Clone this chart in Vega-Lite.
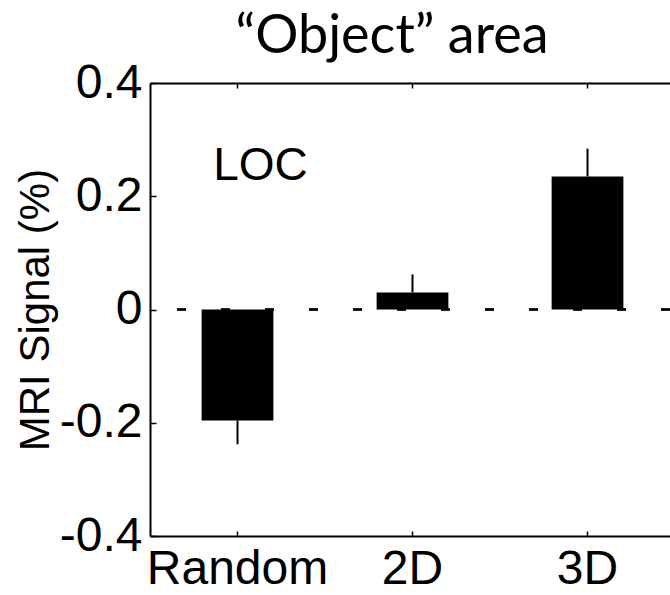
{
  "$schema": "https://vega.github.io/schema/vega-lite/v6.json",
  "width": 520,
  "height": 453,
  "autosize": "none",
  "padding": {"left": 150, "top": 83, "right": 0, "bottom": 59},
  "background": "white",
  "config": {"view": {"stroke": null}, "font": "Liberation Sans"},
  "title": {"text": "“Object” area", "font": "Lato", "fontSize": 54, "fontWeight": "normal", "color": "black", "anchor": "middle", "dx": -18, "dy": 9},
  "data": {"values": [
    {"cond": "Random", "val": -0.196, "bound": -0.238},
    {"cond": "2D", "val": 0.03, "bound": 0.062},
    {"cond": "3D", "val": 0.235, "bound": 0.284}
  ]},
  "resolve": {"axis": {"x": "independent"}},
  "layer": [
    {
      "mark": {"type": "rule", "strokeDash": [9, 35], "color": "black", "strokeWidth": 2},
      "encoding": {"y": {"datum": 0, "type": "quantitative"}}
    },
    {
      "mark": {"type": "bar", "color": "black"},
      "encoding": {
        "x": {"field": "cond", "type": "nominal", "sort": ["Random", "2D", "3D"],
          "scale": {"range": [0, 525], "paddingInner": 0.59, "paddingOuter": 0.295},
          "axis": {"orient": "bottom", "title": null, "labelAngle": 0, "labelLimit": 0, "labelFont": "Liberation Sans", "labelFontSize": 48, "labelColor": "black", "labelPadding": 14, "tickSize": -5, "tickColor": "black", "tickWidth": 1.5, "domainColor": "black", "domainWidth": 2}},
        "y": {"field": "val", "type": "quantitative",
          "scale": {"domain": [-0.4, 0.4], "nice": false, "zero": false},
          "axis": {"values": [-0.4, -0.2, 0, 0.2, 0.4], "grid": false, "labelExpr": "replace(format(datum.value, '~g'), '−', '-')", "labelFont": "Liberation Sans", "labelFontSize": 48, "labelColor": "black", "labelPadding": 14, "tickSize": -6, "tickColor": "black", "tickWidth": 1.5, "domainColor": "black", "domainWidth": 2,
            "title": "MRI Signal (%)", "titleFont": "Liberation Sans", "titleFontSize": 42, "titleFontWeight": "normal", "titleColor": "black", "titlePadding": 2}}
      }
    },
    {
      "mark": {"type": "rule", "color": "black", "strokeWidth": 2},
      "encoding": {
        "x": {"field": "cond", "type": "nominal", "sort": ["Random", "2D", "3D"],
          "axis": {"orient": "top", "title": null, "labels": false, "tickSize": -5, "tickColor": "black", "tickWidth": 1.5, "domainColor": "black", "domainWidth": 2}},
        "y": {"field": "val", "type": "quantitative"},
        "y2": {"field": "bound"}
      }
    },
    {
      "data": {"values": [{"cond": "Random", "pos": 0.228, "label": "LOC"}]},
      "mark": {"type": "text", "font": "Liberation Sans", "fontSize": 46, "color": "black", "baseline": "alphabetic", "dx": 23},
      "encoding": {
        "x": {"field": "cond", "type": "nominal", "sort": ["Random", "2D", "3D"], "axis": null},
        "y": {"field": "pos", "type": "quantitative"},
        "text": {"field": "label"}
      }
    }
  ]
}
